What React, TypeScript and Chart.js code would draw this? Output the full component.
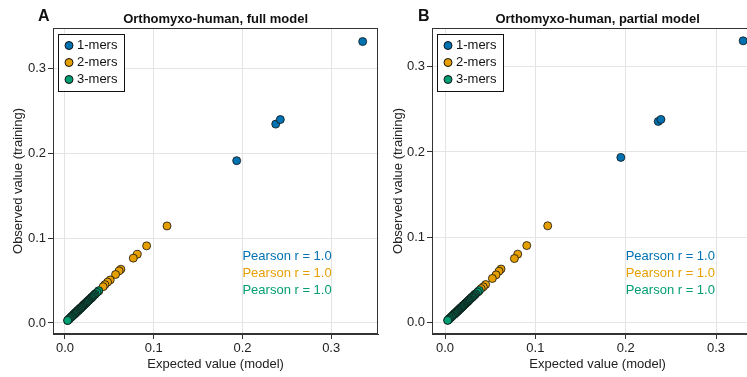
import React, { useEffect, useRef } from "react";
import { Chart, registerables } from "chart.js";
Chart.register(...registerables);

const FONT = "'Liberation Sans', Arial, Helvetica, sans-serif";
const SERIES_NAMES = ["1-mers", "2-mers", "3-mers"];
const SERIES_COLORS = ["#0072B2", "#E69F00", "#009E73"];
const PEARSON_LABELS = ["Pearson r = 1.0", "Pearson r = 1.0", "Pearson r = 1.0"];
const TICK_VALUES = [0.0, 0.1, 0.2, 0.3];
const X_TITLE = "Expected value (model)";
const Y_TITLE = "Observed value (training)";

// Panel A: full model
const fullOneExp = [0.1935, 0.2375, 0.2427, 0.3355];
const fullOneObs = [0.1915, 0.2346, 0.2400, 0.3320];
const fullTwoExp = [0.115, 0.092, 0.0815, 0.077, 0.063, 0.061, 0.057, 0.051, 0.048, 0.045, 0.043, 0.038, 0.034, 0.030, 0.026, 0.021];
const fullTwoObs = [0.1145, 0.091, 0.081, 0.0765, 0.0634, 0.0615, 0.0572, 0.0508, 0.0482, 0.0452, 0.0428, 0.0378, 0.0342, 0.0298, 0.0262, 0.0212];

// Panel B: partial model
const partOneExp = [0.1946, 0.2360, 0.2390, 0.3300];
const partOneObs = [0.1936, 0.2357, 0.2380, 0.3300];
const partTwoExp = [0.1137, 0.0905, 0.0805, 0.0768, 0.062, 0.0598, 0.0565, 0.0524, 0.045, 0.0424, 0.040, 0.037, 0.033, 0.029, 0.025, 0.020];
const partTwoObs = [0.1136, 0.0905, 0.0804, 0.0753, 0.063, 0.0605, 0.0562, 0.052, 0.0449, 0.0422, 0.0402, 0.0368, 0.0332, 0.0291, 0.0248, 0.0202];

// 3-mers (both panels), largest first
const threeExp = [
  0.038, 0.036, 0.034, 0.033, 0.032, 0.031, 0.030, 0.030, 0.029, 0.028, 0.027, 0.027, 0.026, 0.026, 0.025, 0.025,
  0.024, 0.024, 0.023, 0.023, 0.022, 0.022, 0.021, 0.021, 0.020, 0.020, 0.020, 0.019, 0.019, 0.018, 0.018, 0.018,
  0.017, 0.017, 0.017, 0.016, 0.016, 0.015, 0.015, 0.015, 0.014, 0.014, 0.014, 0.013, 0.013, 0.012, 0.012, 0.012,
  0.011, 0.011, 0.010, 0.010, 0.010, 0.009, 0.008, 0.008, 0.007, 0.007, 0.006, 0.005, 0.005, 0.004, 0.003, 0.003,
];
const threeObs = [
  0.038, 0.036, 0.034, 0.033, 0.032, 0.031, 0.030, 0.030, 0.029, 0.028, 0.027, 0.027, 0.026, 0.026, 0.025, 0.025,
  0.024, 0.024, 0.023, 0.023, 0.022, 0.022, 0.021, 0.021, 0.020, 0.020, 0.020, 0.019, 0.019, 0.018, 0.018, 0.018,
  0.017, 0.017, 0.017, 0.016, 0.016, 0.015, 0.015, 0.015, 0.014, 0.014, 0.014, 0.013, 0.013, 0.012, 0.012, 0.012,
  0.011, 0.011, 0.010, 0.010, 0.010, 0.009, 0.008, 0.008, 0.007, 0.007, 0.006, 0.005, 0.005, 0.004, 0.003, 0.003,
];

// Pearson text anchor (data coordinates)
const PEARSON_X = 0.2;
const PEARSON_Y = [0.078, 0.058, 0.038];

type PanelProps = {
  letter: string;
  title: string;
  oneExp: number[]; oneObs: number[];
  twoExp: number[]; twoObs: number[];
  thExp: number[]; thObs: number[];
  left: number; width: number;
  yAxisWidth: number;
  xMin: number; xMax: number; yMin: number; yMax: number;
};

function zip(xs: number[], ys: number[]) {
  return xs.map((x, i) => ({ x, y: ys[i] }));
}

function Panel(p: PanelProps) {
  const ref = useRef<HTMLCanvasElement | null>(null);
  useEffect(() => {
    const canvas = ref.current!;
    const decor = {
      id: "decor",
      afterDraw(chart: any) {
        const ctx = chart.ctx as CanvasRenderingContext2D;
        const a = chart.chartArea;
        const xs = chart.scales.x;
        const ys = chart.scales.y;
        ctx.save();
        // frame
        ctx.strokeStyle = "#333";
        ctx.lineWidth = 1;
        ctx.strokeRect(Math.round(a.left) + 0.5, Math.round(a.top) + 0.5, Math.round(a.right - a.left) - 1, Math.round(a.bottom - a.top) - 1);
        // panel letter + title
        ctx.fillStyle = "#111";
        ctx.textBaseline = "middle";
        ctx.font = `bold 16px ${FONT}`;
        ctx.textAlign = "left";
        ctx.fillText(p.letter, 38, 17);
        ctx.font = `bold 13px ${FONT}`;
        ctx.textAlign = "center";
        ctx.fillText(p.title, (a.left + a.right) / 2, 19);
        // Pearson texts
        ctx.font = `13px ${FONT}`;
        ctx.textAlign = "left";
        PEARSON_LABELS.forEach((t, i) => {
          ctx.fillStyle = SERIES_COLORS[i];
          ctx.fillText(t, xs.getPixelForValue(PEARSON_X), ys.getPixelForValue(PEARSON_Y[i]));
        });
        // legend
        const bx = a.left + 5, by = a.top + 5.5;
        ctx.fillStyle = "#fff";
        ctx.fillRect(bx, by, 67, 57);
        ctx.strokeStyle = "#111";
        ctx.strokeRect(Math.round(bx) + 0.5, Math.round(by) + 0.5, 66, 57);
        SERIES_NAMES.forEach((n, i) => {
          const cy = a.top + 17.5 + i * 17;
          ctx.beginPath();
          ctx.arc(a.left + 16, cy, 4, 0, Math.PI * 2);
          ctx.fillStyle = SERIES_COLORS[i];
          ctx.fill();
          ctx.strokeStyle = "#111";
          ctx.lineWidth = 1;
          ctx.stroke();
          ctx.fillStyle = "#111";
          ctx.textAlign = "left";
          ctx.fillText(n, a.left + 24, cy);
        });
        ctx.restore();
      },
    };
    const axisCommon = (title: string) => ({
      type: "linear" as const,
      afterBuildTicks: (scale: any) => {
        scale.ticks = TICK_VALUES.map((v) => ({ value: v }));
      },
      ticks: {
        color: "#222",
        font: { family: FONT, size: 13 },
        padding: 2,
        callback: (v: any) => Number(v).toFixed(1),
      },
      grid: { color: "#e4e4e4", lineWidth: 1, tickColor: "#333", tickLength: 5, drawTicks: true },
      border: { display: true, color: "#333", width: 1 },
      title: { display: true, text: title, color: "#222", font: { family: FONT, size: 13 } },
    });
    const xAxis: any = axisCommon(X_TITLE);
    xAxis.min = p.xMin; xAxis.max = p.xMax;
    xAxis.title.padding = { top: 0, bottom: 5 };
    xAxis.afterFit = (s: any) => { s.height = 43; s.paddingLeft = 0; s.paddingRight = 0; };
    const yAxis: any = axisCommon(Y_TITLE);
    yAxis.min = p.yMin; yAxis.max = p.yMax;
    yAxis.title.padding = { top: 11, bottom: 0 };
    yAxis.afterFit = (s: any) => { s.width = p.yAxisWidth; s.paddingTop = 0; s.paddingBottom = 0; };

    const mk = (i: number, data: any[], order: number) => ({
      label: SERIES_NAMES[i],
      data,
      backgroundColor: SERIES_COLORS[i],
      borderColor: "#111",
      borderWidth: 0.8,
      pointRadius: 4,
      pointHoverRadius: 4,
      order,
    });
    const chart = new Chart(canvas, {
      type: "scatter",
      data: {
        datasets: [
          mk(0, zip(p.oneExp, p.oneObs), 1),
          mk(1, zip(p.twoExp, p.twoObs), 3),
          mk(2, zip(p.thExp, p.thObs), 2),
        ],
      },
      options: {
        responsive: false,
        animation: false,
        devicePixelRatio: 1,
        layout: { padding: { top: 28, right: 2, left: 0, bottom: 0 } },
        plugins: { legend: { display: false }, tooltip: { enabled: false }, title: { display: false } },
        scales: { x: xAxis, y: yAxis },
      },
      plugins: [decor],
    });
    return () => chart.destroy();
  }, []);
  return (
    <canvas
      ref={ref}
      width={p.width}
      height={377}
      style={{ position: "absolute", left: p.left, top: 0, width: p.width, height: 377 }}
    />
  );
}

export default function App() {
  return (
    <div style={{ position: "fixed", left: 0, top: 0, width: 747, height: 377, overflow: "hidden", background: "#fff" }}>
      <Panel
        letter="A"
        title="Orthomyxo-human, full model"
        oneExp={fullOneExp} oneObs={fullOneObs}
        twoExp={fullTwoExp} twoObs={fullTwoObs}
        thExp={threeExp} thObs={threeObs}
        left={0} width={383} yAxisWidth={53}
        xMin={-0.0135} xMax={0.353} yMin={-0.013} yMax={0.348}
      />
      <Panel
        letter="B"
        title="Orthomyxo-human, partial model"
        oneExp={partOneExp} oneObs={partOneObs}
        twoExp={partTwoExp} twoObs={partTwoObs}
        thExp={threeExp} thObs={threeObs}
        left={380} width={388} yAxisWidth={52}
        xMin={-0.0144} xMax={0.3522} yMin={-0.013} yMax={0.345}
      />
    </div>
  );
}
